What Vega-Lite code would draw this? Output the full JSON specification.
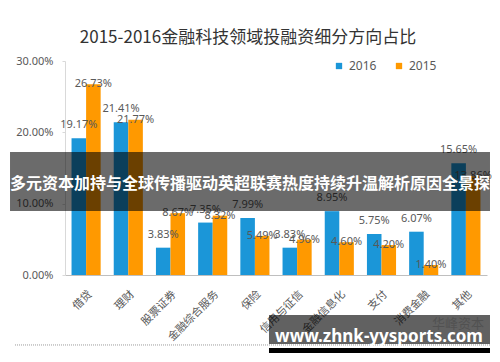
{
  "$schema": "https://vega.github.io/schema/vega-lite/v6.json",
  "width": 422,
  "height": 214,
  "autosize": {"type": "none"},
  "padding": {"left": 65, "top": 61, "right": 13, "bottom": 87},
  "background": "white",
  "config": {"view": {"stroke": null}, "font": "Noto Sans CJK SC", "axis": {"labelOverlap": false}},
  "title": {"text": "2015-2016金融科技领域投融资细分方向占比", "fontSize": 17, "fontWeight": "normal", "color": "#333333", "anchor": "middle", "dx": -28, "offset": 8, "font": "Noto Sans CJK SC"},
  "datasets": {
    "share": [
      {"cat": "借贷", "year": "2016", "value": 0.1917},
      {"cat": "借贷", "year": "2015", "value": 0.2673},
      {"cat": "理财", "year": "2016", "value": 0.2141},
      {"cat": "理财", "year": "2015", "value": 0.2177},
      {"cat": "股票证券", "year": "2016", "value": 0.0383},
      {"cat": "股票证券", "year": "2015", "value": 0.0867},
      {"cat": "金融综合服务", "year": "2016", "value": 0.0735},
      {"cat": "金融综合服务", "year": "2015", "value": 0.0832},
      {"cat": "保险", "year": "2016", "value": 0.0799},
      {"cat": "保险", "year": "2015", "value": 0.0549},
      {"cat": "信用与征信", "year": "2016", "value": 0.0383},
      {"cat": "信用与征信", "year": "2015", "value": 0.0496},
      {"cat": "金融信息化", "year": "2016", "value": 0.0895},
      {"cat": "金融信息化", "year": "2015", "value": 0.046},
      {"cat": "支付", "year": "2016", "value": 0.0575},
      {"cat": "支付", "year": "2015", "value": 0.042},
      {"cat": "消费金融", "year": "2016", "value": 0.0607},
      {"cat": "消费金融", "year": "2015", "value": 0.014},
      {"cat": "其他", "year": "2016", "value": 0.1565},
      {"cat": "其他", "year": "2015", "value": 0.1386}
    ],
    "overlay": [{"overlay": 1}]
  },
  "resolve": {"scale": {"x": "independent"}},
  "layer": [
    {
      "data": {"name": "share"},
      "layer": [
        {
          "mark": {"type": "bar"},
          "encoding": {
            "x": {"field": "cat", "type": "nominal", "sort": null, "scale": {"paddingInner": 0.31, "paddingOuter": 0.155},
              "axis": {"title": null, "labelAngle": -45, "labelFontSize": 11, "labelColor": "#595959", "ticks": false, "labelPadding": 13, "domainColor": "#bfbfbf", "labelFont": "Noto Sans CJK SC"}},
            "xOffset": {"field": "year", "type": "nominal", "scale": {"domain": ["2016", "2015"]}},
            "y": {"field": "value", "type": "quantitative", "stack": null, "scale": {"domain": [0, 0.3]},
              "axis": {"title": null, "format": ".2%", "values": [0, 0.05, 0.1, 0.15, 0.2, 0.25, 0.3], "labelOverlap": false, "grid": false, "domainColor": "#d9d9d9", "tickColor": "#d9d9d9", "tickSize": 3, "labelPadding": 9, "labelColor": "#595959", "labelFontSize": 11, "labelFont": "Noto Sans"}},
            "color": {"field": "year", "type": "nominal", "scale": {"domain": ["2016", "2015"], "range": ["#1b96d8", "#ff9900"]},
              "legend": {"title": null, "orient": "none", "legendX": 268, "legendY": -1, "direction": "horizontal", "symbolType": "square", "symbolSize": 40, "labelFontSize": 12, "labelColor": "#595959", "columnPadding": 16, "labelFont": "Noto Sans"}}
          }
        },
        {
          "transform": [{"filter": "datum.year === '2016'"}],
          "mark": {"type": "text", "baseline": "middle", "dy": -13, "fontSize": 11, "color": "#595959", "font": "Noto Sans"},
          "encoding": {
            "x": {"field": "cat", "type": "nominal", "sort": null},
            "xOffset": {"field": "year", "type": "nominal", "scale": {"domain": ["2016", "2015"]}},
            "y": {"field": "value", "type": "quantitative",
              "axis": {"title": null, "format": ".2%", "values": [0, 0.05, 0.1, 0.15, 0.2, 0.25, 0.3], "labelOverlap": false, "grid": false, "domainColor": "#d9d9d9", "tickColor": "#d9d9d9", "tickSize": 3, "labelPadding": 9, "labelColor": "#595959", "labelFontSize": 11, "labelFont": "Noto Sans"}},
            "text": {"field": "value", "type": "quantitative", "format": ".2%"}
          }
        },
        {
          "transform": [{"filter": "datum.year === '2015'"}],
          "mark": {"type": "text", "baseline": "middle", "fontSize": 11, "color": "#595959", "font": "Noto Sans"},
          "encoding": {
            "x": {"field": "cat", "type": "nominal", "sort": null},
            "xOffset": {"field": "year", "type": "nominal", "scale": {"domain": ["2016", "2015"]}},
            "y": {"field": "value", "type": "quantitative",
              "axis": {"title": null, "format": ".2%", "values": [0, 0.05, 0.1, 0.15, 0.2, 0.25, 0.3], "labelOverlap": false, "grid": false, "domainColor": "#d9d9d9", "tickColor": "#d9d9d9", "tickSize": 3, "labelPadding": 9, "labelColor": "#595959", "labelFontSize": 11, "labelFont": "Noto Sans"}},
            "yOffset": {"field": "value", "type": "quantitative", "scale": {"domain": [0, 0.3], "range": [0, 107]}},
            "text": {"field": "value", "type": "quantitative", "format": ".2%"}
          }
        }
      ]
    },
    {
      "data": {"name": "overlay"},
      "layer": [
        {
          "mark": {"type": "rect", "color": "#000000", "opacity": 0.58},
          "encoding": {
            "x": {"datum": -0.1303, "type": "quantitative", "scale": {"domain": [0, 1]}, "axis": null},
            "x2": {"datum": 1.0071},
            "y": {"datum": 0.1724, "type": "quantitative"},
            "y2": {"datum": 0.0897}
          }
        },
        {
          "mark": {"type": "text", "color": "white", "fontSize": 16, "fontWeight": "bold", "baseline": "middle", "font": "Noto Sans CJK SC"},
          "encoding": {
            "x": {"datum": 0.4384, "type": "quantitative"},
            "y": {"datum": 0.1269, "type": "quantitative"},
            "text": {"value": "多元资本加持与全球传播驱动英超联赛热度持续升温解析原因全景探"}
          }
        },
        {
          "mark": {"type": "rule", "strokeWidth": 1, "strokeDash": [1, 1], "color": "#999999"},
          "encoding": {
            "x": {"datum": -0.1185, "type": "quantitative"},
            "x2": {"datum": 1.0071},
            "y": {"datum": -0.0981, "type": "quantitative"}
          }
        },
        {
          "mark": {"type": "text", "color": "#d6d6d6", "fontSize": 13, "baseline": "middle", "font": "Noto Sans CJK SC"},
          "encoding": {
            "x": {"datum": 0.9313, "type": "quantitative"},
            "y": {"datum": -0.0687, "type": "quantitative"},
            "text": {"value": "华峰资本"}
          }
        },
        {
          "mark": {"type": "rect", "color": "#000000", "opacity": 0.62},
          "encoding": {
            "x": {"datum": 0.4834, "type": "quantitative"},
            "x2": {"datum": 1.0071},
            "y": {"datum": -0.0561, "type": "quantitative"},
            "y2": {"datum": -0.0967}
          }
        },
        {
          "mark": {"type": "rect", "color": "#000000"},
          "encoding": {
            "x": {"datum": 0.4834, "type": "quantitative"},
            "x2": {"datum": 1.0071},
            "y": {"datum": -0.1023, "type": "quantitative"},
            "y2": {"datum": -0.1094}
          }
        },
        {
          "mark": {"type": "text", "color": "white", "fontSize": 17, "fontWeight": "bold", "baseline": "alphabetic", "font": "Noto Sans"},
          "encoding": {
            "x": {"datum": 0.7441, "type": "quantitative"},
            "y": {"datum": -0.0939, "type": "quantitative"},
            "text": {"value": "www.zhnk-yysports.com"}
          }
        }
      ]
    }
  ]
}
